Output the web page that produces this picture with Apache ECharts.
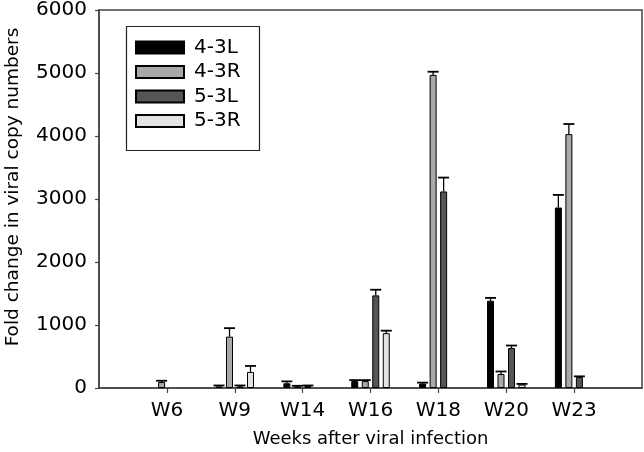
<!DOCTYPE html>
<html>
<head>
<meta charset="utf-8">
<script src="https://cdn.jsdelivr.net/npm/echarts@6/dist/echarts.min.js"></script>
<style>html,body{margin:0;padding:0;background:#fff}#c{width:644px;height:452px}</style>
</head>
<body>
<div id="c"></div>
<script>
const categories = ['W6', 'W9', 'W14', 'W16', 'W18', 'W20', 'W23'];
const seriesNames = ['4-3L', '4-3R', '5-3L', '5-3R'];
const val43L = [0, 25, 75, 110, 70, 1385, 2865];
const err43L = [0, 15, 30, 15, 15, 45, 200];
const val43R = [95, 815, 25, 110, 4970, 222, 4030];
const err43R = [20, 135, 10, 15, 50, 40, 160];
const val53L = [0, 25, 30, 1470, 3120, 634, 175];
const err53L = [0, 15, 10, 90, 220, 40, 10];
const val53R = [0, 255, 0, 870, 0, 55, 0];
const err53R = [0, 95, 0, 40, 0, 10, 0];
const yTicks = [0, 1000, 2000, 3000, 4000, 5000, 6000];

const values = [val43L, val43R, val53L, val53R];
const errors = [err43L, err43R, err53L, err53R];
const colors = ['#000000', '#a9a9a9', '#555555', '#e2e2e2'];

const axisCats = [''].concat(categories, ['']);
const BAR_W = 7, GAP = 3.5, PITCH = BAR_W + GAP;

const FONT = '"DejaVu Sans", sans-serif';
const chart = echarts.init(document.getElementById('c'));

const series = [];
seriesNames.forEach((name, s) => {
  series.push({
    name: name,
    type: 'bar',
    barWidth: BAR_W,
    barGap: (GAP / BAR_W * 100) + '%',
    itemStyle: { color: colors[s], borderColor: '#000', borderWidth: 1 },
    data: [null].concat(values[s].map(v => (v === 0 ? null : v)), [null]),
    z: 2
  });
});
seriesNames.forEach((name, s) => {
  series.push({
    type: 'custom',
    z: 3,
    silent: true,
    encode: { x: 0, y: 1 },
    data: values[s].map((v, i) => [i + 1, v, errors[s][i]]),
    renderItem: function (params, api) {
      const idx = api.value(0), v = api.value(1), e = api.value(2);
      if (!e) return null;
      const off = (s - 1.5) * PITCH;
      const base = api.coord([idx, v]);
      const top = api.coord([idx, v + e]);
      const x = base[0] + off;
      return {
        type: 'group',
        children: [
          { type: 'line', shape: { x1: x, y1: base[1], x2: x, y2: top[1] }, style: { stroke: '#000', lineWidth: 1.3 } },
          { type: 'line', shape: { x1: x - 5.5, y1: top[1], x2: x + 5.5, y2: top[1] }, style: { stroke: '#000', lineWidth: 1.8 } }
        ]
      };
    }
  });
});

chart.setOption({
  animation: false,
  backgroundColor: '#fff',
  grid: { left: 99, right: 2, top: 10, bottom: 64, show: true, borderColor: '#444', borderWidth: 1.5, containLabel: false, outerBoundsMode: 'none' },
  legend: {
    data: seriesNames,
    orient: 'vertical',
    left: 135,
    top: 37.5,
    padding: 0,
    itemWidth: 48,
    itemHeight: 12,
    itemGap: 4.5,
    icon: 'rect',
    textStyle: { fontFamily: FONT, fontSize: 20, color: '#000', lineHeight: 20, padding: [0, 0, 0, 5] }
  },
  graphic: [{
    type: 'rect', left: 124, top: 24, shape: { width: 133, height: 124 },
    style: { fill: 'none', stroke: '#222', lineWidth: 1.2 }, z: 10
  }],
  xAxis: {
    type: 'category',
    data: axisCats,
    boundaryGap: false,
    name: 'Weeks after viral infection',
    nameLocation: 'middle',
    nameGap: 42,
    nameTextStyle: { fontFamily: FONT, fontSize: 18, color: '#000' },
    axisLine: { lineStyle: { color: '#444', width: 1.5 } },
    axisTick: { show: true, length: 5, inside: false, interval: (i) => i > 0 && i < axisCats.length - 1, lineStyle: { color: '#444', width: 1.2 } },
    axisLabel: { fontFamily: FONT, fontSize: 20, color: '#000', margin: 13, interval: 0 },
    splitLine: { show: false }
  },
  yAxis: {
    type: 'value',
    min: yTicks[0],
    max: yTicks[yTicks.length - 1],
    interval: yTicks[1] - yTicks[0],
    name: 'Fold change in viral copy numbers',
    nameLocation: 'middle',
    nameGap: 76,
    nameTextStyle: { fontFamily: FONT, fontSize: 18.5, color: '#000', padding: [0, 0, 0, 24] },
    axisLine: { show: true, lineStyle: { color: '#444', width: 1.5 } },
    axisTick: { show: true, length: 4, inside: false, lineStyle: { color: '#444', width: 1.2 } },
    axisLabel: { fontFamily: FONT, fontSize: 20, color: '#000', margin: 12, formatter: (v) => String(v) },
    splitLine: { show: false }
  },
  series: series
});
</script>
</body>
</html>
